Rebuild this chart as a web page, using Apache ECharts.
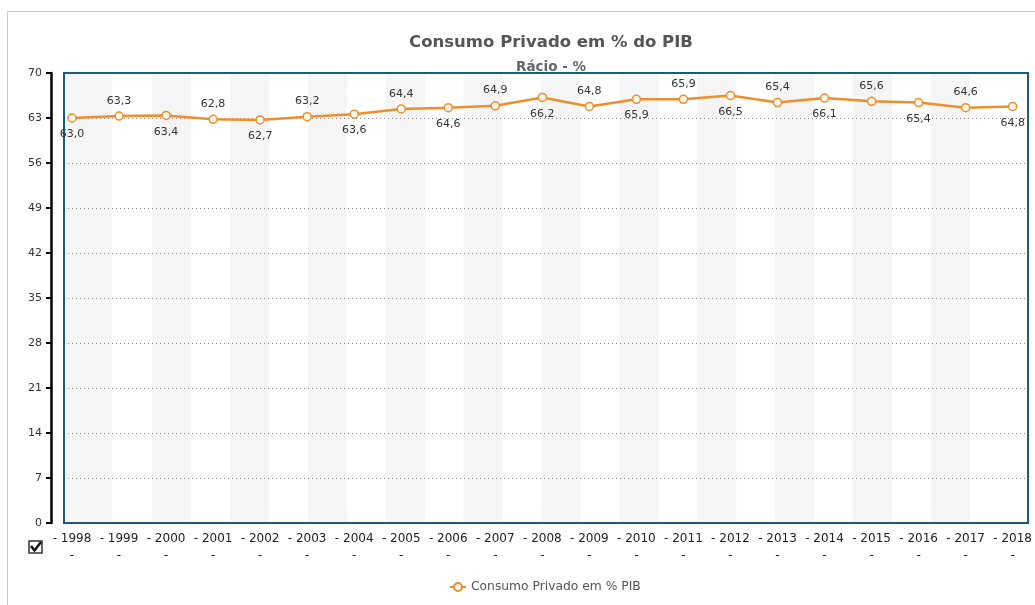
<!DOCTYPE html>
<html>
<head>
<meta charset="utf-8">
<script src="https://cdn.jsdelivr.net/npm/echarts@6/dist/echarts.min.js"></script>
<style>
html,body{margin:0;padding:0;background:#fff;}
#chart{width:1035px;height:605px;}
</style>
</head>
<body>
<div id="chart"></div>
<script>
var years = ['1998','1999','2000','2001','2002','2003','2004','2005','2006','2007','2008','2009','2010','2011','2012','2013','2014','2015','2016','2017','2018'];
var values = [63.0,63.3,63.4,62.8,62.7,63.2,63.6,64.4,64.6,64.9,66.2,64.8,65.9,65.9,66.5,65.4,66.1,65.6,65.4,64.6,64.8];
var yTicks = [0,7,14,21,28,35,42,49,56,63,70];
var titleText = 'Consumo Privado em % do PIB';
var subtitleText = 'Rácio - %';
var seriesName = 'Consumo Privado em % PIB';

var FONT = 'DejaVu Sans, Verdana, sans-serif';
var ORANGE = '#EE8E2C';

var chart = echarts.init(document.getElementById('chart'), null, {renderer: 'canvas'});

// data items with alternating label placement (below for even, above for odd)
var lineData = values.map(function (v, i) {
  return {
    value: v,
    label: {position: i % 2 === 0 ? 'bottom' : 'top', distance: i % 2 === 0 ? 6 : 5}
  };
});

// background stripes in the plot frame (hidden pixel-unit axis)
var frameW = 963;
var stripes = [[{xAxis: 0}, {xAxis: 48}]];
for (var k = 0; k <= 10; k++) {
  var s = 88 + 77.8 * k;
  stripes.push([{xAxis: s}, {xAxis: s + 39}]);
}

var option = {
  backgroundColor: '#fff',
  animation: false,
  title: [
    {text: titleText, left: 546, top: 29, textAlign: 'center',
      textStyle: {fontFamily: FONT, fontSize: 16.5, fontWeight: 'bold', color: '#555'}},
    {text: subtitleText, left: 546, top: 55, textAlign: 'center',
      textStyle: {fontFamily: FONT, fontSize: 13.5, fontWeight: 'bold', color: '#666'}}
  ],
  legend: {
    data: [seriesName],
    left: 444, top: 576,
    itemWidth: 16, itemHeight: 10, itemGap: 5,
    textStyle: {fontFamily: FONT, fontSize: 12.3, color: '#555'}
  },
  grid: [
    {left: 72, right: 16, top: 73, bottom: 82},
    {left: 64, right: 7, top: 73, bottom: 82, show: true, borderColor: '#1D5B7D', borderWidth: 2, backgroundColor: 'transparent', z: 1}
  ],
  xAxis: [
    {type: 'category', gridIndex: 0, data: years, boundaryGap: false,
      axisLine: {show: false}, axisTick: {show: false},
      axisLabel: {interval: 0, hideOverlap: false, fontFamily: FONT, fontSize: 12, color: '#222', margin: 7, lineHeight: 17,
        formatter: function (v) { return '- ' + v + '\n-'; }},
      splitLine: {show: false}},
    {type: 'value', gridIndex: 1, min: 0, max: frameW, show: false, splitLine: {show: false}}
  ],
  yAxis: [
    {type: 'value', gridIndex: 0, min: 0, max: 70, interval: 7, show: false, splitLine: {show: false}},
    {type: 'value', gridIndex: 1, min: 0, max: 70, interval: 7, offset: 13,
      axisLine: {show: true, onZero: false, lineStyle: {color: '#000', width: 2.5}},
      axisTick: {show: true, length: 5, lineStyle: {color: '#000', width: 2}},
      axisLabel: {fontFamily: FONT, fontSize: 11, color: '#333', margin: 9},
      splitLine: {show: true, lineStyle: {color: '#888', type: [1, 3], width: 1}}}
  ],
  series: [
    {type: 'line', xAxisIndex: 1, yAxisIndex: 1, data: [], silent: true, z: -5,
      markArea: {silent: true, z: -5, itemStyle: {color: '#F5F5F5'}, data: stripes}},
    {name: seriesName, type: 'line', xAxisIndex: 0, yAxisIndex: 0, data: lineData, z: 5,
      symbol: 'circle', symbolSize: 8,
      lineStyle: {color: ORANGE, width: 2.5},
      itemStyle: {color: '#FFF8EC', borderColor: ORANGE, borderWidth: 1.5},
      label: {show: true, fontFamily: FONT, fontSize: 11, color: '#333',
        formatter: function (p) { return p.value.toFixed(1).replace('.', ','); }}}
  ],
  graphic: [
    {type: 'rect', shape: {x: 7.5, y: 11.5, width: 1100, height: 700}, style: {fill: null, stroke: '#C8C8C8', lineWidth: 1}, silent: true, z: -10},
    {type: 'rect', shape: {x: 29, y: 541, width: 13, height: 12}, style: {fill: '#fff', stroke: '#333', lineWidth: 1.5}},
    {type: 'polyline', shape: {points: [[31, 546], [34.5, 550.5], [41, 542]]}, style: {fill: null, stroke: '#111', lineWidth: 2.5}}
  ]
};
chart.setOption(option);
</script>
</body>
</html>
